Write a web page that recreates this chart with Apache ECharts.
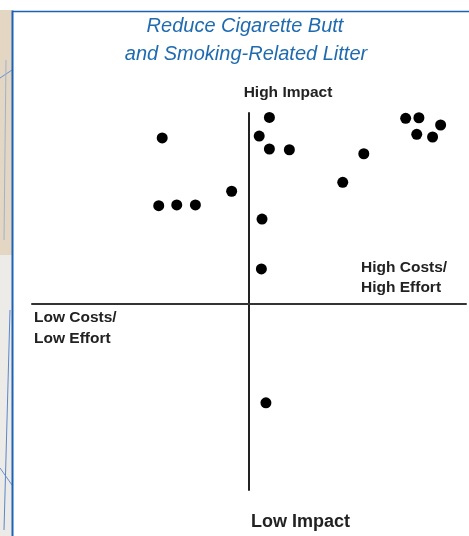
<!DOCTYPE html>
<html>
<head>
<meta charset="utf-8">
<script src="https://cdn.jsdelivr.net/npm/echarts@6/dist/echarts.min.js"></script>
<style>
html,body{margin:0;padding:0;background:#ffffff;}
#c{width:469px;height:536px;}
</style>
</head>
<body>
<div id="c"></div>
<script>
// Strategies: x = cost/effort (negative = low, positive = high), y = impact
const titleLines = ['Reduce Cigarette Butt', 'and Smoking-Related Litter'];
const axisLabels = {
  top: 'High Impact',
  bottom: 'Low Impact',
  right: ['High Costs/', 'High Effort'],
  left: ['Low Costs/', 'Low Effort']
};
const xValues = [-4.0, 0.94, 0.47, 0.94, 1.86, -0.80, -4.16, -3.33, -2.47, 0.60, 0.57, 7.22, 7.83, 8.83, 7.73, 8.46, 5.29, 4.32, 0.78];
const yValues = [8.69, 9.77, 8.79, 8.11, 8.07, 5.89, 5.13, 5.17, 5.17, 4.43, 1.81, 9.72, 9.75, 9.37, 8.88, 8.74, 7.86, 6.36, -5.22];

const points = xValues.map((x, i) => [x, yValues[i]]);

const chart = echarts.init(document.getElementById('c'), null, {renderer: 'canvas'});
const labelFont = 'Liberation Sans, Arial, sans-serif';
chart.setOption({
  animation: false,
  backgroundColor: '#ffffff',
  grid: {left: 32, top: 113, width: 434, height: 377, containLabel: false},
  xAxis: {
    type: 'value', min: -10, max: 10,
    axisLine: {onZero: true, lineStyle: {color: '#333333', width: 2}},
    axisTick: {show: false}, axisLabel: {show: false}, splitLine: {show: false}
  },
  yAxis: {
    type: 'value', min: -9.8, max: 10,
    axisLine: {onZero: true, lineStyle: {color: '#222222', width: 2}},
    axisTick: {show: false}, axisLabel: {show: false}, splitLine: {show: false}
  },
  series: [{
    type: 'scatter',
    data: points,
    symbol: 'circle',
    symbolSize: 11,
    itemStyle: {color: '#000000', opacity: 1},
    emphasis: {disabled: true},
    z: 5
  }],
  graphic: [
    // background photo strip on the left
    {type: 'rect', shape: {x: 0, y: 10, width: 12, height: 526}, style: {fill: '#e3d7c4'}, z: -10},
    {type: 'rect', shape: {x: 0, y: 255, width: 12, height: 281}, style: {fill: '#ecebe8'}, z: -9},
    {type: 'line', shape: {x1: 0, y1: 78, x2: 12, y2: 70}, style: {stroke: '#6a8fc8', lineWidth: 1}, z: -8},
    {type: 'line', shape: {x1: 4, y1: 240, x2: 6, y2: 60}, style: {stroke: '#9fb3cf', lineWidth: 1}, z: -8},
    {type: 'line', shape: {x1: 4, y1: 530, x2: 10, y2: 310}, style: {stroke: '#5c86cc', lineWidth: 1}, z: -8},
    {type: 'line', shape: {x1: 0, y1: 468, x2: 12, y2: 485}, style: {stroke: '#6a8fc8', lineWidth: 1}, z: -8},
    // panel border
    {type: 'line', shape: {x1: 12.5, y1: 10.5, x2: 12.5, y2: 536}, style: {stroke: '#1c62b5', lineWidth: 2}, z: -5},
    {type: 'line', shape: {x1: 12, y1: 11.5, x2: 469, y2: 11.5}, style: {stroke: '#1c62b5', lineWidth: 1.5}, z: -5},
    // title
    {type: 'text', x: 245, y: 26, style: {text: titleLines[0], font: 'italic 20px ' + labelFont, fill: '#1f6bb0', textAlign: 'center', textVerticalAlign: 'middle'}},
    {type: 'text', x: 246, y: 54, style: {text: titleLines[1], font: 'italic 20px ' + labelFont, fill: '#1f6bb0', textAlign: 'center', textVerticalAlign: 'middle'}},
    // quadrant labels
    {type: 'text', x: 288, y: 93, style: {text: axisLabels.top, font: 'bold 15.5px ' + labelFont, fill: '#222222', textAlign: 'center', textVerticalAlign: 'middle'}},
    {type: 'text', x: 251, y: 522, style: {text: axisLabels.bottom, font: 'bold 18px ' + labelFont, fill: '#222222', textAlign: 'left', textVerticalAlign: 'middle'}},
    {type: 'text', x: 361, y: 268, style: {text: axisLabels.right[0], font: 'bold 15.5px ' + labelFont, fill: '#222222', textAlign: 'left', textVerticalAlign: 'middle'}},
    {type: 'text', x: 361, y: 288, style: {text: axisLabels.right[1], font: 'bold 15.5px ' + labelFont, fill: '#222222', textAlign: 'left', textVerticalAlign: 'middle'}},
    {type: 'text', x: 34, y: 318, style: {text: axisLabels.left[0], font: 'bold 15.5px ' + labelFont, fill: '#222222', textAlign: 'left', textVerticalAlign: 'middle'}},
    {type: 'text', x: 34, y: 338.5, style: {text: axisLabels.left[1], font: 'bold 15.5px ' + labelFont, fill: '#222222', textAlign: 'left', textVerticalAlign: 'middle'}}
  ]
});
</script>
</body>
</html>
